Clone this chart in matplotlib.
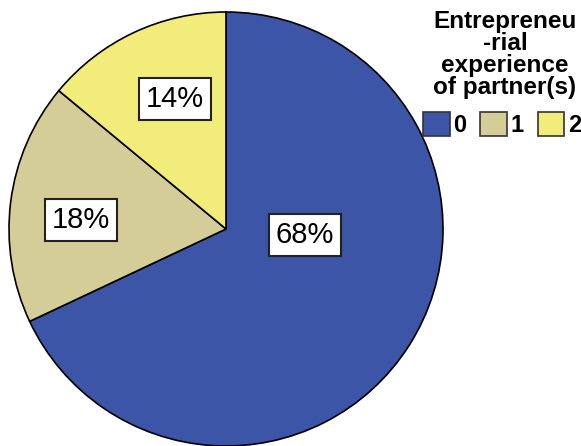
import matplotlib
matplotlib.use("Agg")
import matplotlib.pyplot as plt
from matplotlib.patches import Patch

plt.rcParams['font.family'] = ['Liberation Sans', 'DejaVu Sans']

categories = ["0", "1", "2"]
shares = [68, 18, 14]
colors = ["#3D55A6", "#D5CD98", "#F2EC7A"]
legend_title = "Entrepreneu\n-rial\nexperience\nof partner(s)"

# label anchor points (in pie radius units)
label_pos = [(0.364, -0.028), (-0.668, 0.041), (-0.235, 0.599)]

W, H = 581, 446
fig = plt.figure(figsize=(W / 100, H / 100), dpi=100)
ax = fig.add_axes([9 / W, 0 / H, 434 / W, 434 / H])
wedges, _ = ax.pie(shares, colors=colors, startangle=90, counterclock=False,
                   radius=1.0, wedgeprops=dict(edgecolor="black", linewidth=1.2))
ax.set_xlim(-1.0, 1.0)
ax.set_ylim(-1.0, 1.0)
ax.set_aspect("equal")
ax.axis("off")

for val, (x, y) in zip(shares, label_pos):
    ax.text(x, y, f"{val}%", ha="center", va="center", fontsize=21,
            bbox=dict(boxstyle="square,pad=0.24", facecolor="white",
                      edgecolor="#222222", linewidth=1.5))

# legend heading, drawn separately so the gap above the swatches can be set
fig.text(505 / W, 1 - 10 / H, legend_title, ha="center", va="top",
         multialignment="center", fontsize=17.5, fontweight="bold",
         linespacing=0.95)

handles = [Patch(facecolor=c, edgecolor="#333333", linewidth=1.2) for c in colors]
leg = fig.legend(handles, categories, loc="upper center",
                 bbox_to_anchor=(502 / W, 1 - 112 / H), ncol=3, frameon=False,
                 handlelength=1.12, handleheight=1.2,
                 handletextpad=0.15, columnspacing=0.6, borderpad=0.0,
                 borderaxespad=0.0,
                 prop=dict(weight="bold", size=17))

fig.savefig("out.png", dpi=100)
